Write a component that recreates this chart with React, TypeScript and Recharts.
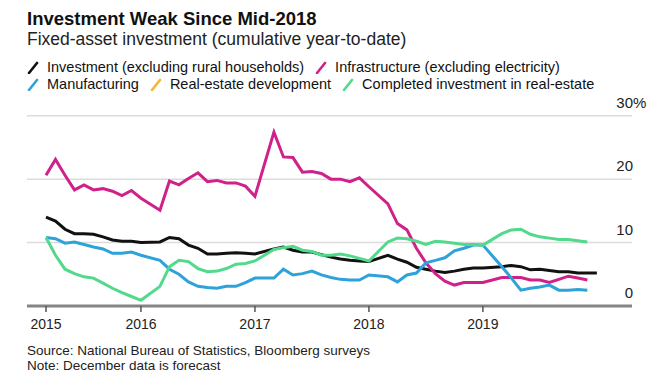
import React from "react";
import { LineChart, Line, XAxis, YAxis, CartesianGrid } from "recharts";

// month-end observations, Jan is folded into Feb in the source data
const months = [
  "2015-02", "2015-03", "2015-04", "2015-05", "2015-06", "2015-07", "2015-08", "2015-09", "2015-10", "2015-11", "2015-12",
  "2016-02", "2016-03", "2016-04", "2016-05", "2016-06", "2016-07", "2016-08", "2016-09", "2016-10", "2016-11", "2016-12",
  "2017-02", "2017-03", "2017-04", "2017-05", "2017-06", "2017-07", "2017-08", "2017-09", "2017-10", "2017-11", "2017-12",
  "2018-02", "2018-03", "2018-04", "2018-05", "2018-06", "2018-07", "2018-08", "2018-09", "2018-10", "2018-11", "2018-12",
  "2019-02", "2019-03", "2019-04", "2019-05", "2019-06", "2019-07", "2019-08", "2019-09", "2019-10", "2019-11", "2019-12",
];

const investment = [
  14.0, 13.4, 12.1, 11.4, 11.4, 11.3, 10.9, 10.4, 10.2, 10.2, 10.0,
  10.1, 10.8, 10.6, 9.6, 9.1, 8.2, 8.2, 8.3, 8.4, 8.3, 8.2,
  9.0, 9.3, 8.8, 8.5, 8.5, 8.1, 7.7, 7.4, 7.2, 7.1, 7.0,
  8.0, 7.4, 6.9, 6.1, 5.8, 5.5, 5.3, 5.5, 5.8, 6.0, 6.0,
  6.2, 6.4, 6.2, 5.7, 5.8, 5.6, 5.4, 5.4, 5.2, 5.2, 5.2,
];

const infrastructure = [
  20.6, 23.1, 20.6, 18.3, 19.1, 18.3, 18.5, 18.1, 17.4, 18.2, 17.0,
  15.1, 19.7, 19.1, 20.1, 21.0, 19.6, 19.8, 19.4, 19.4, 18.9, 17.3,
  27.4, 23.5, 23.4, 21.1, 21.2, 20.9, 20.0, 20.0, 19.6, 20.2, 18.8,
  16.1, 13.0, 12.0, 9.1, 6.8, 5.1, 3.9, 3.3, 3.7, 3.7, 3.7,
  4.5, 4.5, 4.5, 4.1, 4.1, 3.7, 4.2, 4.7, 4.4, 4.1,
];

const manufacturing = [
  10.8, 10.6, 9.9, 10.1, 9.7, 9.3, 9.0, 8.3, 8.3, 8.5, 8.0,
  7.2, 5.8, 5.0, 3.8, 3.1, 2.9, 2.8, 3.1, 3.1, 3.7, 4.4,
  4.4, 5.8, 4.9, 5.1, 5.5, 4.9, 4.5, 4.2, 4.1, 4.1, 4.9,
  4.6, 3.8, 4.9, 5.2, 6.8, 7.2, 7.6, 8.7, 9.1, 9.6, 9.6,
  6.2, 4.4, 2.5, 2.8, 3.0, 3.3, 2.5, 2.5, 2.6, 2.5,
];

const completedRealEstate = [
  10.8, 8.0, 5.8, 5.1, 4.6, 4.4, 3.6, 2.8, 2.1, 1.5, 0.9,
  3.1, 6.2, 7.2, 7.0, 5.9, 5.4, 5.5, 5.9, 6.6, 6.7, 7.1,
  8.9, 9.2, 9.4, 8.8, 8.6, 8.0, 8.0, 8.2, 7.9, 7.5, 7.1,
  10.1, 10.7, 10.6, 10.2, 9.7, 10.2, 10.1, 9.9, 9.7, 9.7, 9.6,
  11.4, 12.0, 12.1, 11.3, 10.9, 10.7, 10.5, 10.5, 10.3, 10.1,
];

const yearLabels = ["2015", "2016", "2017", "2018", "2019"];
const yTicks = [0, 10, 20, 30];

const legendRows = [
  [
    { name: "Investment (excluding rural households)", color: "#111111" },
    { name: "Infrastructure (excluding electricity)", color: "#d0218a" },
  ],
  [
    { name: "Manufacturing", color: "#2ea3d9" },
    { name: "Real-estate development", color: "#f3b731" },
    { name: "Completed investment in real-estate", color: "#52d98b" },
  ],
];

// months since 1 Jan 2015, observation dated at month end
const monthIndex = (m: string) => {
  const [y, mo] = m.split("-").map(Number);
  return (y - 2015) * 12 + mo;
};

const data = months.map((m, i) => ({
  t: monthIndex(m),
  investment: investment[i],
  infrastructure: infrastructure[i],
  manufacturing: manufacturing[i],
  completed: completedRealEstate[i],
}));

// first label sits on the first observation, the rest on 1 Jan
const xTicks = yearLabels.map((y, i) =>
  i === 0 ? monthIndex(months[0]) : (Number(y) - 2015) * 12
);

const FONT = "'Liberation Sans', Arial, sans-serif";

function renderYTick(props: any) {
  const { x, y, payload } = props;
  const top = payload.value === yTicks[yTicks.length - 1];
  return (
    <g key={`y-${payload.value}`}>
      <text x={x + 1} y={y - 8} textAnchor="end" fontSize={15} fill="#222" fontFamily={FONT}>
        {payload.value}
      </text>
      {top && (
        <text x={x + 1} y={y - 8} textAnchor="start" fontSize={15} fill="#222" fontFamily={FONT}>
          %
        </text>
      )}
    </g>
  );
}

function LegendIcon({ color }: { color: string }) {
  return (
    <svg width={12} height={13} style={{ marginRight: 8, flex: "none" }}>
      <line x1={2} y1={12} x2={10} y2={2} stroke={color} strokeWidth={2.6} strokeLinecap="round" />
    </svg>
  );
}

export default function App() {
  return (
    <div
      style={{
        position: "absolute",
        left: 0,
        top: 0,
        width: 665,
        height: 392,
        background: "#fff",
        fontFamily: FONT,
        color: "#111",
        overflow: "hidden",
      }}
    >
      <div style={{ position: "absolute", left: 27, top: 8, fontSize: 18.5, fontWeight: 700, whiteSpace: "nowrap" }}>
        Investment Weak Since Mid-2018
      </div>
      <div style={{ position: "absolute", left: 27, top: 29, fontSize: 17.5, color: "#222", whiteSpace: "nowrap" }}>
        Fixed-asset investment (cumulative year-to-date)
      </div>
      {legendRows.map((row, r) => (
        <div
          key={r}
          style={{
            position: "absolute",
            left: 27,
            top: 59 + r * 17,
            display: "flex",
            alignItems: "center",
            fontSize: 14.5,
            lineHeight: "17px",
            whiteSpace: "nowrap",
          }}
        >
          {row.map((item) => (
            <div key={item.name} style={{ display: "flex", alignItems: "center", marginRight: 11 }}>
              <LegendIcon color={item.color} />
              <span>{item.name}</span>
            </div>
          ))}
        </div>
      ))}

      <div style={{ position: "absolute", left: 0, top: 0 }}>
        <LineChart
          width={665}
          height={392}
          data={data}
          margin={{ top: 115.7, right: 0, bottom: 56, left: 27 }}
        >
          <CartesianGrid vertical={false} stroke="#dcdcdc" strokeWidth={1.5} />
          <XAxis
            dataKey="t"
            type="number"
            domain={[0, 63.7]}
            ticks={xTicks}
            tickFormatter={(v: number) => yearLabels[xTicks.indexOf(v)]}
            height={30}
            tickSize={6}
            tickMargin={7}
            axisLine={{ stroke: "#858585", strokeWidth: 3 }}
            tickLine={{ stroke: "#555", strokeWidth: 1.5 }}
            tick={{ fontSize: 14, fill: "#222", fontFamily: FONT }}
          />
          <YAxis
            orientation="right"
            width={33}
            domain={[0, 30]}
            ticks={yTicks}
            allowDataOverflow
            axisLine={false}
            tickLine={false}
            tickSize={0}
            tickMargin={0}
            tick={renderYTick}
          />
          <Line dataKey="investment" stroke="#111111" strokeWidth={3} dot={false} isAnimationActive={false} />
          <Line dataKey="infrastructure" stroke="#d0218a" strokeWidth={3} dot={false} isAnimationActive={false} />
          <Line dataKey="manufacturing" stroke="#2ea3d9" strokeWidth={3} dot={false} isAnimationActive={false} />
          <Line dataKey="completed" stroke="#52d98b" strokeWidth={3} dot={false} isAnimationActive={false} />
        </LineChart>
      </div>

      <div style={{ position: "absolute", left: 27, top: 343, fontSize: 13.5, lineHeight: "15px", color: "#222" }}>
        <div>Source: National Bureau of Statistics, Bloomberg surveys</div>
        <div>Note: December data is forecast</div>
      </div>
    </div>
  );
}
